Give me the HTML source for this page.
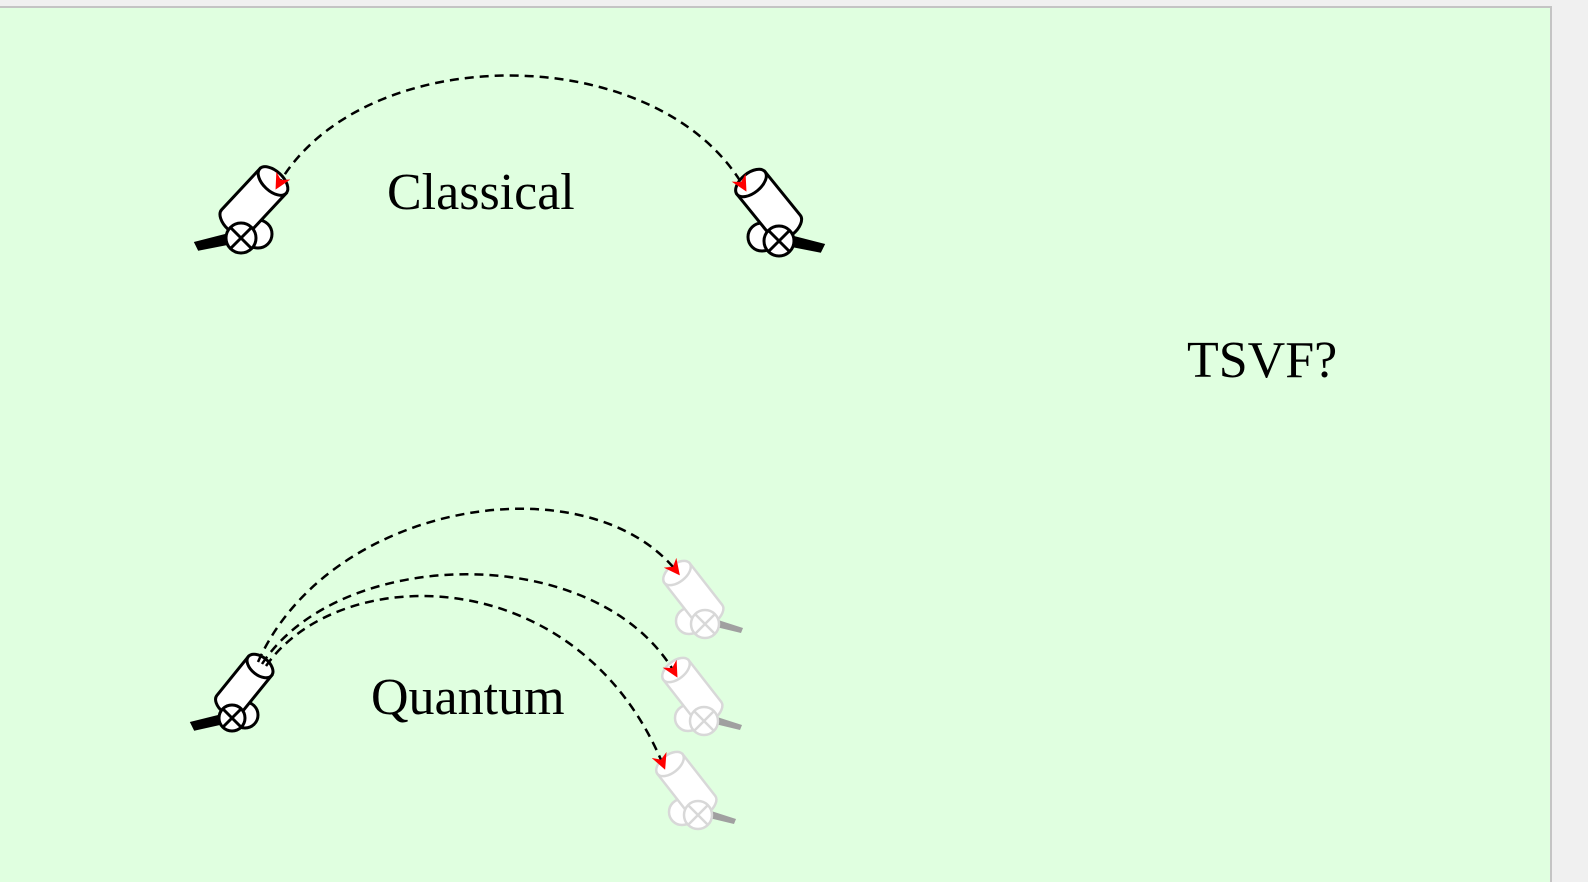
<!DOCTYPE html>
<html><head><style>
html,body{margin:0;padding:0;background:#f0f0f0;width:1588px;height:882px;overflow:hidden}
svg{display:block}
</style></head><body>
<svg width="1588" height="882" xmlns="http://www.w3.org/2000/svg">
<defs>
<marker id="ar" markerWidth="16" markerHeight="16" refX="13" refY="8" orient="auto-start-reverse" markerUnits="userSpaceOnUse">
<path d="M0,0 L16,8 L0,16 L5,8 Z" fill="#ff0000"/>
</marker>
</defs>
<rect x="-1" y="7" width="1552" height="880" fill="#e0ffe0" stroke="#c4c4c4" stroke-width="2"/>

<g font-family="'Liberation Serif',serif" font-size="52" fill="#000">
<text x="387" y="209">Classical</text>
<text x="371" y="714">Quantum</text>
<text x="1187" y="377">TSVF?</text>
</g>

<!-- top-left cannon -->
<g stroke="#000" stroke-width="3" fill="#fff">
<polygon points="196,243 199,249 230,243 227,235" fill="#000"/>
<circle cx="258" cy="234" r="14"/>
<g transform="translate(273,181) rotate(-47)">
<path d="M0,-18 L-56,-18 A10,18 0 0 0 -56,18 L0,18 Z"/>
<ellipse cx="0" cy="0" rx="10" ry="18"/>
</g>
<circle cx="241" cy="238" r="15"/>
<path d="M230,227 L252,249 M252,227 L230,249" fill="none"/>
</g>

<!-- top-right cannon -->
<g stroke="#000" stroke-width="3" fill="#fff">
<polygon points="823,245 820,251 789,245 792,237" fill="#000"/>
<circle cx="762" cy="237" r="14"/>
<g transform="translate(751,183) rotate(-129)">
<path d="M0,-18 L-56,-18 A10,18 0 0 0 -56,18 L0,18 Z"/>
<ellipse cx="0" cy="0" rx="10" ry="18"/>
</g>
<circle cx="779" cy="241" r="15"/>
<path d="M768,230 L790,252 M790,230 L768,252" fill="none"/>
</g>

<!-- bottom-left cannon -->
<g stroke="#000" stroke-width="3" fill="#fff">
<polygon points="192,723 195,729 222,723 220,716" fill="#000"/>
<circle cx="245" cy="715" r="13"/>
<g transform="translate(260,666) rotate(-51)">
<path d="M0,-15 L-50,-15 A9,15 0 0 0 -50,15 L0,15 Z"/>
<ellipse cx="0" cy="0" rx="9" ry="15"/>
</g>
<circle cx="232" cy="718" r="13"/>
<path d="M223,709 L241,727 M241,709 L223,727" fill="none"/>
</g>

<!-- ghost cannons -->
<g stroke="#d8d8d8" stroke-width="2.5" fill="#fff">
<g>
<polygon points="743,628 741,633 712,626 715,619" fill="#a0a0a0" stroke="none"/>
<circle cx="689" cy="621" r="13"/>
<g transform="translate(677,573) rotate(-128)">
<path d="M0,-16 L-53,-16 A9,16 0 0 0 -53,16 L0,16 Z"/>
<ellipse cx="0" cy="0" rx="9" ry="16"/>
</g>
<circle cx="705" cy="624" r="14"/>
<path d="M695,614 L715,634 M715,614 L695,634" fill="none"/>
</g>
<g transform="translate(-1,97)">
<polygon points="743,628 741,633 712,626 715,619" fill="#a0a0a0" stroke="none"/>
<circle cx="689" cy="621" r="13"/>
<g transform="translate(677,573) rotate(-128)">
<path d="M0,-16 L-53,-16 A9,16 0 0 0 -53,16 L0,16 Z"/>
<ellipse cx="0" cy="0" rx="9" ry="16"/>
</g>
<circle cx="705" cy="624" r="14"/>
<path d="M695,614 L715,634 M715,614 L695,634" fill="none"/>
</g>
<g transform="translate(-7,191)">
<polygon points="743,628 741,633 712,626 715,619" fill="#a0a0a0" stroke="none"/>
<circle cx="689" cy="621" r="13"/>
<g transform="translate(677,573) rotate(-128)">
<path d="M0,-16 L-53,-16 A9,16 0 0 0 -53,16 L0,16 Z"/>
<ellipse cx="0" cy="0" rx="9" ry="16"/>
</g>
<circle cx="705" cy="624" r="14"/>
<path d="M695,614 L715,634 M715,614 L695,634" fill="none"/>
</g>
</g>

<!-- arcs (drawn on top) -->
<g fill="none" stroke="#000" stroke-width="2.5" stroke-dasharray="9 6">
<path d="M277,187 C360,38 660,38 745,189" marker-start="url(#ar)" marker-end="url(#ar)"/>
<path d="M258,662 C330,500 590,460 678,573" marker-end="url(#ar)"/>
<path d="M262,664 C340,545 600,540 676,675" marker-end="url(#ar)"/>
<path d="M266,666 C340,560 580,560 664,767" marker-end="url(#ar)"/>
</g>
</svg>
</body></html>
